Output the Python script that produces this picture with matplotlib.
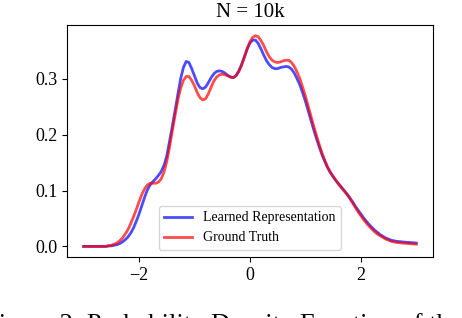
import matplotlib
matplotlib.use("Agg")
import matplotlib.pyplot as plt
import numpy as np

plt.rcParams['font.family'] = ['Liberation Serif', 'DejaVu Serif']

# sample positions of the two density curves
x = np.round(np.arange(-3.0, 3.001, 0.05), 2)

# learned representation (blue)
learned = [0.000, 0.000, 0.000, 0.000, 0.000, 0.000, 0.000, 0.000,
           0.000, 0.001, 0.001, 0.002, 0.003, 0.005, 0.008, 0.012,
           0.017, 0.024, 0.033, 0.045, 0.058, 0.073, 0.088, 0.101,
           0.110, 0.116, 0.121, 0.127, 0.134, 0.145, 0.162, 0.188,
           0.215, 0.243, 0.272, 0.300, 0.320, 0.331, 0.329, 0.318,
           0.305, 0.292, 0.284, 0.282, 0.285, 0.293, 0.302, 0.309,
           0.313, 0.314, 0.313, 0.310, 0.306, 0.303, 0.302, 0.306,
           0.314, 0.325, 0.339, 0.353, 0.364, 0.369, 0.369, 0.363,
           0.353, 0.342, 0.332, 0.325, 0.320, 0.318, 0.318, 0.320,
           0.321, 0.322, 0.321, 0.317, 0.310, 0.300, 0.289, 0.275,
           0.260, 0.243, 0.226, 0.209, 0.193, 0.178, 0.164, 0.152,
           0.141, 0.132, 0.125, 0.118, 0.112, 0.106, 0.100, 0.094,
           0.087, 0.080, 0.072, 0.065, 0.058, 0.051, 0.045, 0.039,
           0.034, 0.029, 0.025, 0.021, 0.018, 0.015, 0.013, 0.011,
           0.010, 0.009, 0.0085, 0.008, 0.0075, 0.0072, 0.0068, 0.0064,
           0.006]

# ground truth (red)
truth = [0.000, 0.000, 0.000, 0.000, 0.000, 0.000, 0.000, 0.000,
         0.000, 0.001, 0.002, 0.004, 0.006, 0.010, 0.015, 0.022,
         0.030, 0.041, 0.053, 0.066, 0.080, 0.093, 0.103, 0.110,
         0.113, 0.113, 0.113, 0.115, 0.121, 0.133, 0.152, 0.178,
         0.207, 0.235, 0.262, 0.283, 0.297, 0.304, 0.304, 0.297,
         0.287, 0.275, 0.266, 0.262, 0.264, 0.273, 0.285, 0.296,
         0.303, 0.307, 0.308, 0.307, 0.305, 0.303, 0.302, 0.305,
         0.313, 0.325, 0.339, 0.354, 0.366, 0.374, 0.377, 0.375,
         0.368, 0.359, 0.348, 0.339, 0.333, 0.330, 0.329, 0.330,
         0.332, 0.333, 0.333, 0.329, 0.322, 0.312, 0.300, 0.285,
         0.269, 0.251, 0.233, 0.215, 0.198, 0.182, 0.167, 0.154,
         0.142, 0.133, 0.125, 0.118, 0.111, 0.105, 0.099, 0.093,
         0.086, 0.078, 0.070, 0.062, 0.055, 0.048, 0.042, 0.036,
         0.031, 0.026, 0.022, 0.019, 0.016, 0.013, 0.011, 0.009,
         0.008, 0.007, 0.0065, 0.006, 0.0055, 0.0052, 0.0048, 0.0044,
         0.004]

fig = plt.figure(figsize=(4.62, 3.18), dpi=100)
ax = fig.add_axes([0.145, 0.192, 0.792, 0.729])

ax.plot(x, learned, color='blue', alpha=0.7, linewidth=2, label='Learned Representation')
ax.plot(x, truth, color='red', alpha=0.7, linewidth=2, label='Ground Truth')

ax.set_title('N = 10k', fontsize=15)
ax.set_xticks([-2, 0, 2])
ax.set_yticks([0.0, 0.1, 0.2, 0.3])
ax.tick_params(labelsize=13)
ax.legend(loc='lower center', fontsize=10)

# caption of the paper figure, cut off by the lower edge as in the source
fig.text(-0.035, -0.04, 'Figure 2: Probability Density Function of the',
         fontsize=19, va='baseline', ha='left')

fig.savefig('out.png', dpi=100)
